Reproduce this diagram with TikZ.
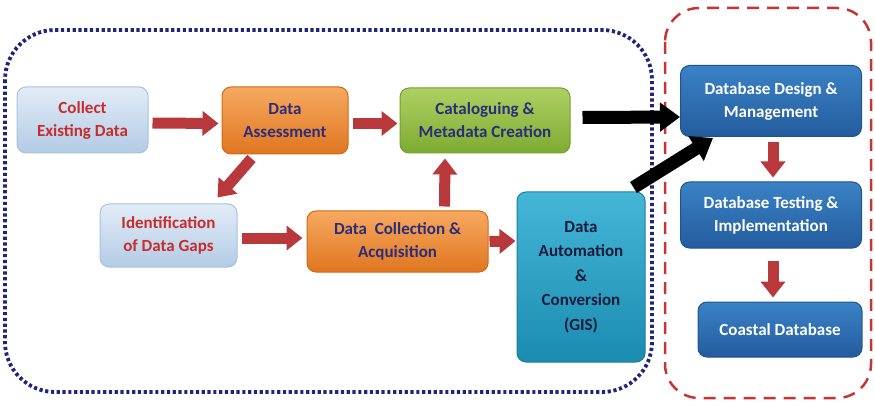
\documentclass[tikz,border=0pt]{standalone}
\usepackage{fontspec}
\setmainfont{Carlito}
\usetikzlibrary{arrows.meta,calc}
\definecolor{navytxt}{HTML}{2B2D7A}
\definecolor{redtxt}{HTML}{C62D2D}
\definecolor{dotnavy}{HTML}{23237A}
\definecolor{dashred}{HTML}{C83434}
\definecolor{arrred}{HTML}{B8383C}
\definecolor{lbdraw}{HTML}{A9C2DE}
\definecolor{lbtop}{HTML}{E2ECF7}
\definecolor{lbbot}{HTML}{B3CBE5}
\definecolor{ordraw}{HTML}{D06A18}
\definecolor{ortop}{HTML}{F6A960}
\definecolor{orbot}{HTML}{DF7620}
\definecolor{grdraw}{HTML}{76A02E}
\definecolor{grtop}{HTML}{AED063}
\definecolor{grbot}{HTML}{7DAB31}
\definecolor{tedraw}{HTML}{1B7E9E}
\definecolor{tetop}{HTML}{45B6D6}
\definecolor{tebot}{HTML}{1A8CB0}
\definecolor{tetxt}{HTML}{1B1B3D}
\definecolor{bldraw}{HTML}{1E5490}
\definecolor{bltop}{HTML}{3B82C6}
\definecolor{blbot}{HTML}{235C9E}
\begin{document}
\begin{tikzpicture}[x=1pt,y=-1pt,
  box/.style={rounded corners=9pt, line width=1pt, align=center, inner sep=0pt,
    font=\bfseries\fontsize{17}{23}\selectfont},
  lightbox/.style={box, draw=lbdraw, top color=lbtop, bottom color=lbbot, text=redtxt},
  orangebox/.style={box, draw=ordraw, top color=ortop, bottom color=orbot, text=navytxt},
  greenbox/.style={box, draw=grdraw, top color=grtop, bottom color=grbot, text=navytxt},
  tealbox/.style={box, draw=tedraw, top color=tetop, bottom color=tebot, text=tetxt},
  bluebox/.style={box, draw=bldraw, top color=bltop, bottom color=blbot, text=white},
  redarrow/.style={draw=arrred, line width=11pt, -{Triangle[width=24pt,length=16pt]}},
  blackarrow/.style={draw=black, line width=13pt, -{Triangle[width=28pt,length=20pt]}},
]
\useasboundingbox (0,0) rectangle (875,406);
% regions
\draw[dotnavy, line width=3.8pt, dash pattern=on 3.2pt off 2.6pt, rounded corners=50pt]
  (5,30) rectangle (652,392);
\draw[dashred, line width=2.5pt, dash pattern=on 12pt off 8pt, rounded corners=34pt]
  (665,8) rectangle (871,398);
% boxes
\node[lightbox, minimum width=131pt, minimum height=66pt] (collect) at (82.5,120) {Collect\\Existing Data};
\node[orangebox, minimum width=126pt, minimum height=67pt] (assess) at (285,120.5) {Data\\Assessment};
\node[greenbox, minimum width=170pt, minimum height=65pt] (cat) at (485,120.5) {Cataloguing \&\\Metadata Creation};
\node[lightbox, minimum width=137pt, minimum height=63pt] (ident) at (168.5,235.5) {Identification\\of Data Gaps};
\node[orangebox, minimum width=181pt, minimum height=61pt] (dc) at (397.5,241.5) {Data~ Collection \&\\Acquisition};
\node[tealbox, minimum width=128pt, minimum height=170pt, font=\bfseries\fontsize{17}{24.5}\selectfont] (auto) at (581,277) {Data\\Automation\\\&\\Conversion\\(GIS)};
\node[bluebox, minimum width=181pt, minimum height=71pt] (design) at (771,101) {Database Design \&\\Management};
\node[bluebox, minimum width=181pt, minimum height=66pt] (test) at (771,215) {Database Testing \&\\Implementation};
\node[bluebox, minimum width=164pt, minimum height=55pt] (coast) at (780,329.5) {Coastal Database};
% red arrows
\draw[redarrow] ($(collect.east)+(4,3)$) -- ($(assess.west)+(-3,3)$);
\draw[redarrow] ($(assess.east)+(4,3)$) -- ($(cat.west)+(-2,3)$);
\draw[redarrow] ($(assess.south west)+(30,4)$) -- ($(ident.north east)+(-20,-6)$);
\draw[redarrow] ($(ident.east)+(4,2.5)$) -- ($(dc.west)+(-4,-3.5)$);
\draw[redarrow] ($(dc.north)+(47,-4)$) -- ($(cat.south)+(-40,5)$);
\draw[redarrow] ($(dc.east)+(1,0)$) -- ($(auto.west)+(-1,-36)$);
\draw[redarrow] ($(design.south)+(2,5)$) -- ($(test.north)+(2,-4)$);
\draw[redarrow] ($(test.south)+(2,12)$) -- ($(coast.north)+(-7,-4)$);
% black arrows
\draw[blackarrow] ($(cat.east)+(12,-3)$) -- ($(design.west)+(0,16)$);
\draw[blackarrow] ($(auto.north east)+(-12,-4)$) -- ($(design.south west)+(33,1)$);
\end{tikzpicture}
\end{document}
